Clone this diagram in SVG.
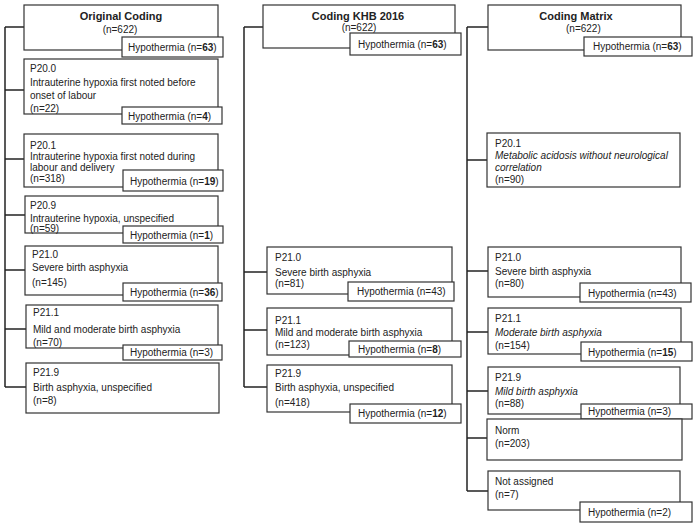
<svg xmlns="http://www.w3.org/2000/svg" width="700" height="526" viewBox="0 0 700 526">
<style>
rect{fill:#fff;stroke:#333;stroke-width:1.2}
.c line{stroke:#222;stroke-width:1.5}
text{font-family:"Liberation Sans",Arial,sans-serif;font-size:10px;fill:#222}
.t{font-size:11px;font-weight:bold;text-anchor:middle}
.m{text-anchor:middle}
.i{font-style:italic}
.b{font-weight:bold}
</style>
<rect x="0" y="0" width="700" height="526" style="stroke:none;fill:#fff"/>
<g class="c" id="connectors">
<line x1="5" y1="27" x2="5" y2="387"/>
<line x1="5" y1="27" x2="24" y2="27"/>
<line x1="5" y1="90" x2="24" y2="90"/>
<line x1="5" y1="159" x2="24" y2="159"/>
<line x1="5" y1="215" x2="25" y2="215"/>
<line x1="5" y1="270" x2="25" y2="270"/>
<line x1="5" y1="329" x2="26" y2="329"/>
<line x1="5" y1="387" x2="26" y2="387"/>
<line x1="244" y1="27" x2="244" y2="387"/>
<line x1="244" y1="27" x2="263" y2="27"/>
<line x1="244" y1="272" x2="267" y2="272"/>
<line x1="244" y1="330" x2="267" y2="330"/>
<line x1="244" y1="387" x2="267" y2="387"/>
<line x1="467" y1="27" x2="467" y2="491"/>
<line x1="467" y1="27" x2="488" y2="27"/>
<line x1="467" y1="160" x2="487" y2="160"/>
<line x1="467" y1="271" x2="488" y2="271"/>
<line x1="467" y1="332" x2="488" y2="332"/>
<line x1="467" y1="391" x2="488" y2="391"/>
<line x1="467" y1="438" x2="487" y2="438"/>
<line x1="467" y1="491" x2="488" y2="491"/>
</g>
<g id="orig-root">
<rect x="24" y="5" width="194" height="45"/>
<text class="t" x="121" y="20">Original Coding</text>
<text class="m" x="120" y="33">(n=622)</text>
<rect x="122" y="37" width="101" height="20"/>
<text x="128" y="50.5">Hypothermia (n=<tspan class="b">63</tspan>)</text>
</g>
<g id="orig-p200">
<rect x="24" y="59" width="194" height="55"/>
<text x="30" y="71.5">P20.0</text>
<text x="30" y="85.5">Intrauterine hypoxia first noted before</text>
<text x="30" y="98.5">onset of labour</text>
<text x="30" y="111.5">(n=22)</text>
<rect x="122" y="107" width="100" height="17"/>
<text x="128" y="119.5">Hypothermia (n=<tspan class="b">4</tspan>)</text>
</g>
<g id="orig-p201">
<rect x="24" y="134" width="194" height="53"/>
<text x="30" y="148.5">P20.1</text>
<text x="30" y="159.5">Intrauterine hypoxia  first noted during</text>
<text x="30" y="170.5">labour and delivery</text>
<text x="30" y="181.5">(n=318)</text>
<rect x="123" y="170" width="100" height="21"/>
<text x="130" y="184.5">Hypothermia (n=<tspan class="b">19</tspan>)</text>
</g>
<g id="orig-p209">
<rect x="25" y="196" width="193" height="37"/>
<text x="30" y="208.5">P20.9</text>
<text x="30" y="221.5">Intrauterine hypoxia, unspecified</text>
<text x="30" y="232">(n=59)</text>
<rect x="123" y="226" width="100" height="17"/>
<text x="130" y="238.5">Hypothermia (n=<tspan class="b">1</tspan>)</text>
</g>
<g id="orig-p210">
<rect x="25" y="246" width="193" height="49"/>
<text x="32" y="257.5">P21.0</text>
<text x="32" y="270.5">Severe birth asphyxia</text>
<text x="32" y="285.5">(n=145)</text>
<rect x="123" y="283" width="99" height="18"/>
<text x="130" y="295.5">Hypothermia (n=<tspan class="b">36</tspan>)</text>
</g>
<g id="orig-p211">
<rect x="26" y="305" width="192" height="43"/>
<text x="33" y="315.5">P21.1</text>
<text x="33" y="332.5">Mild and moderate birth asphyxia</text>
<text x="33" y="345.5">(n=70)</text>
<rect x="123" y="345" width="99" height="15"/>
<text x="130" y="355.5">Hypothermia (n=3)</text>
</g>
<g id="orig-p219">
<rect x="26" y="363" width="193" height="50"/>
<text x="33" y="375.5">P21.9</text>
<text x="33" y="390.5">Birth asphyxia, unspecified</text>
<text x="33" y="403.5">(n=8)</text>
</g>
<g id="khb-root">
<rect x="263" y="5" width="192" height="43"/>
<text class="t" x="358" y="20">Coding KHB 2016</text>
<text class="m" x="359" y="31">(n=622)</text>
<rect x="350" y="33" width="111" height="22"/>
<text x="358" y="48">Hypothermia (n=<tspan class="b">63</tspan>)</text>
</g>
<g id="khb-p210">
<rect x="267" y="247" width="185" height="47"/>
<text x="275" y="260.5">P21.0</text>
<text x="275" y="275.5">Severe birth asphyxia</text>
<text x="275" y="286.5">(n=81)</text>
<rect x="348" y="282" width="106" height="19"/>
<text x="357" y="294.5">Hypothermia (n=43)</text>
</g>
<g id="khb-p211">
<rect x="267" y="308" width="185" height="47"/>
<text x="275" y="323.5">P21.1</text>
<text x="275" y="335.5">Mild and moderate birth asphyxia</text>
<text x="275" y="347.5">(n=123)</text>
<rect x="349" y="341" width="112" height="16"/>
<text x="358" y="352.5">Hypothermia (n=<tspan class="b">8</tspan>)</text>
</g>
<g id="khb-p219">
<rect x="267" y="365" width="185" height="47"/>
<text x="275" y="376.5">P21.9</text>
<text x="275" y="390.5">Birth asphyxia, unspecified</text>
<text x="275" y="405.5">(n=418)</text>
<rect x="350" y="404" width="111" height="19"/>
<text x="358" y="416.5">Hypothermia (n=<tspan class="b">12</tspan>)</text>
</g>
<g id="matrix-root">
<rect x="488" y="5" width="193" height="45"/>
<text class="t" x="576" y="20">Coding Matrix</text>
<text x="566" y="32">(n=622)</text>
<rect x="584" y="37" width="108" height="19"/>
<text x="593" y="49.5">Hypothermia (n=<tspan class="b">63</tspan>)</text>
</g>
<g id="matrix-p201">
<rect x="487" y="133" width="193" height="54"/>
<text x="495" y="146.5">P20.1</text>
<text class="i" x="495" y="158.5">Metabolic acidosis without neurological</text>
<text class="i" x="495" y="170.5">correlation</text>
<text x="495" y="182.5">(n=90)</text>
</g>
<g id="matrix-p210">
<rect x="488" y="247" width="193" height="50"/>
<text x="495" y="260.5">P21.0</text>
<text x="495" y="274.5">Severe birth asphyxia</text>
<text x="495" y="286.5">(n=80)</text>
<rect x="580" y="283" width="111" height="19"/>
<text x="588" y="296.5">Hypothermia (n=43)</text>
</g>
<g id="matrix-p211">
<rect x="488" y="308" width="193" height="46"/>
<text x="495" y="321.5">P21.1</text>
<text class="i" x="495" y="335.5">Moderate birth asphyxia</text>
<text x="495" y="348.5">(n=154)</text>
<rect x="581" y="342" width="111" height="19"/>
<text x="588" y="355.5">Hypothermia (n=<tspan class="b">15</tspan>)</text>
</g>
<g id="matrix-p219">
<rect x="488" y="367" width="192" height="47"/>
<text x="495" y="380.5">P21.9</text>
<text class="i" x="495" y="394.5">Mild birth asphyxia</text>
<text x="495" y="406.5">(n=88)</text>
<rect x="581" y="404" width="111" height="15"/>
<text x="588" y="414.5">Hypothermia (n=3)</text>
</g>
<g id="matrix-norm">
<rect x="487" y="419" width="195" height="41"/>
<text x="495" y="433.5">Norm</text>
<text x="495" y="446.5">(n=203)</text>
</g>
<g id="matrix-na">
<rect x="488" y="471" width="192" height="39"/>
<text x="495" y="484.5">Not assigned</text>
<text x="495" y="497.5">(n=7)</text>
<rect x="580" y="502" width="112" height="20"/>
<text x="588" y="515.5">Hypothermia (n=2)</text>
</g>
</svg>
